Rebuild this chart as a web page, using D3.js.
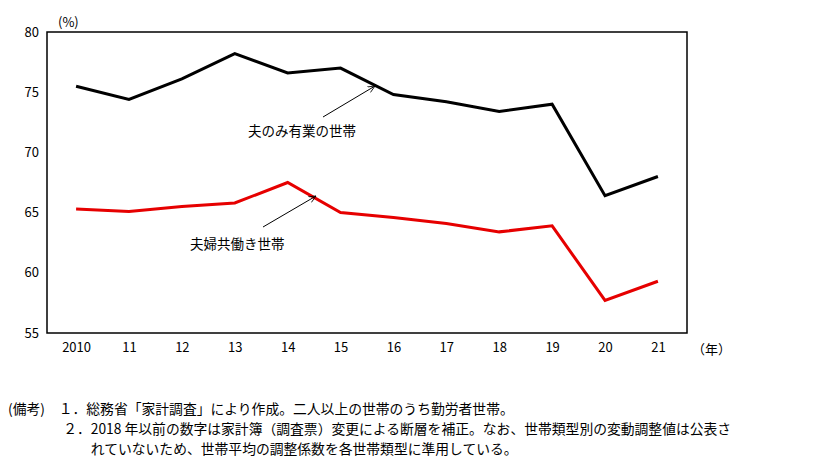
<!DOCTYPE html>
<html><head><meta charset="utf-8">
<script src="https://cdn.jsdelivr.net/npm/d3@7"></script>
<style>body{margin:0;background:#fff}text{font-family:"Noto Sans CJK JP","Liberation Serif",serif}</style>
</head><body><svg id="c" width="815" height="470"></svg>
<script>
const categories=["2010","11","12","13","14","15","16","17","18","19","20","21"];
const husbandOnly=[75.5,74.4,76.1,78.2,76.6,77.0,74.8,74.2,73.4,74.0,66.4,68.0];
const dualIncome=[65.3,65.1,65.5,65.8,67.5,65.0,64.6,64.1,63.4,63.9,57.7,59.3];
const yTicks=[55,60,65,70,75,80];
const notes=["(備考)　１．総務省「家計調査」により作成。二人以上の世帯のうち勤労者世帯。",
"　　　　２．2018 年以前の数字は家計簿（調査票）変更による断層を補正。なお、世帯類型別の変動調整値は公表さ",
"　　　　　　れていないため、世帯平均の調整係数を各世帯類型に準用している。"];
const svg=d3.select("#c");
const L=47,R=687,T=32,B=333;
const x=d3.scalePoint().domain(categories).range([L,R]).padding(0.55);
const y=d3.scaleLinear().domain([55,80]).range([B,T]);
svg.append("rect").attr("x",L).attr("y",T).attr("width",R-L).attr("height",B-T).attr("fill","none").attr("stroke","#000").attr("stroke-width",1.5);
const ya=svg.append("g").attr("transform",`translate(${L},0)`).call(d3.axisLeft(y).tickValues(yTicks).tickSize(0).tickPadding(8));
ya.select(".domain").remove();ya.selectAll("text").attr("font-size",13).attr("font-family","Liberation Serif");
const xa=svg.append("g").attr("transform",`translate(0,${B})`).call(d3.axisBottom(x).tickSize(0).tickPadding(10));
xa.select(".domain").remove();xa.selectAll("text").attr("font-size",13).attr("font-family","Liberation Serif");
svg.append("text").attr("x",58).attr("y",27).attr("font-size",13).text("(%)");
svg.append("text").attr("x",692).attr("y",354).attr("font-size",13).text("（年）");
const line=d3.line().x((d,i)=>x(categories[i])).y(d=>y(d));
svg.append("path").attr("d",line(husbandOnly)).attr("fill","none").attr("stroke","#000").attr("stroke-width",3);
svg.append("path").attr("d",line(dualIncome)).attr("fill","none").attr("stroke","#e60000").attr("stroke-width",3);
svg.append("defs").append("marker").attr("id","a").attr("viewBox","0 0 10 10").attr("refX",9).attr("refY",5).attr("markerWidth",8).attr("markerHeight",8).attr("orient","auto").append("path").attr("d","M0,1L9,5L0,9").attr("fill","none").attr("stroke","#000");
svg.append("line").attr("x1",323).attr("y1",117).attr("x2",375).attr("y2",86).attr("stroke","#000").attr("marker-end","url(#a)");
svg.append("line").attr("x1",263).attr("y1",227).attr("x2",316).attr("y2",196).attr("stroke","#000").attr("marker-end","url(#a)");
svg.append("text").attr("x",248).attr("y",136).attr("font-size",13.5).text("夫のみ有業の世帯");
svg.append("text").attr("x",190).attr("y",249).attr("font-size",13.5).text("夫婦共働き世帯");
notes.forEach((t,i)=>svg.append("text").attr("x",8).attr("y",414+i*20).attr("font-size",13.8).attr("xml:space","preserve").text(t));
</script></body></html>
